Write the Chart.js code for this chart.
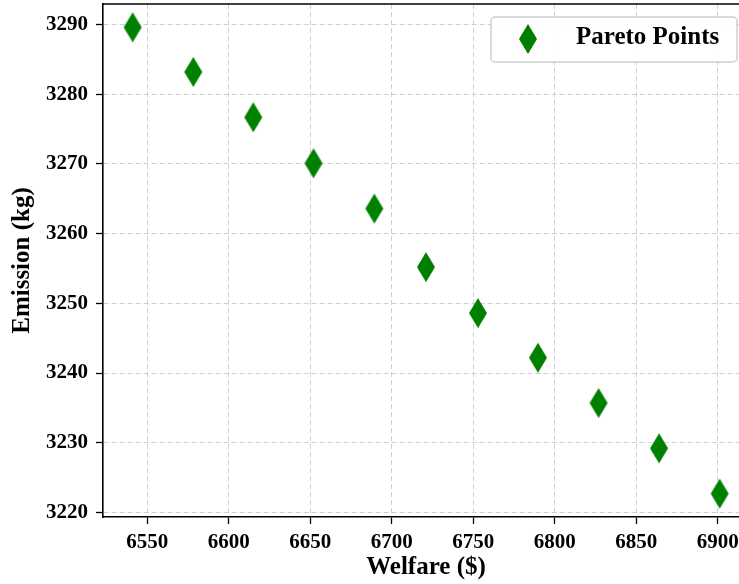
<!DOCTYPE html>
<html>
<head>
<meta charset="utf-8">
<script src="https://cdn.jsdelivr.net/npm/chart.js@4.4.1/dist/chart.umd.min.js"></script>
<style>
  html, body { margin: 0; padding: 0; background: #fff; overflow: hidden; }
  canvas { display: block; }
</style>
</head>
<body>
<canvas id="paretoChart" width="751" height="584"></canvas>
<script>
// values
const welfare = [6541.0, 6578.2, 6615.0, 6652.0, 6689.3, 6721.0, 6752.9, 6789.7, 6826.9, 6864.0, 6901.2];
const emission = [3289.6, 3283.2, 3276.7, 3270.1, 3263.6, 3255.2, 3248.6, 3242.2, 3235.7, 3229.2, 3222.7];
const xTicks = [6550, 6600, 6650, 6700, 6750, 6800, 6850, 6900];
const yTicks = [3220, 3230, 3240, 3250, 3260, 3270, 3280, 3290];
const seriesLabel = 'Pareto Points';

const FONT = "'Liberation Serif', 'Times New Roman', serif";
const GREEN = '#008000';

// thin diamond marker (like matplotlib 'd')
function makeDiamond() {
  const c = document.createElement('canvas');
  c.width = 20;
  c.height = 32;
  const g = c.getContext('2d');
  g.fillStyle = GREEN;
  g.beginPath();
  g.moveTo(10, 1);
  g.lineTo(19, 16);
  g.lineTo(10, 31);
  g.lineTo(1, 16);
  g.closePath();
  g.fill();
  return c;
}
const diamond = makeDiamond();

// keep chart.js from adding label overflow padding, the layout is fixed by hand
function noPad(scale) {
  scale.paddingLeft = 0;
  scale.paddingRight = 0;
  scale.paddingTop = 0;
  scale.paddingBottom = 0;
}

// top/right frame lines, chart.js only draws the axis borders
const framePlugin = {
  id: 'frame',
  afterDraw(chart) {
    const { ctx, chartArea: a } = chart;
    ctx.save();
    ctx.strokeStyle = '#000';
    ctx.lineWidth = 1.6;
    ctx.beginPath();
    ctx.moveTo(a.left, a.top);
    ctx.lineTo(a.right, a.top);
    ctx.lineTo(a.right, a.bottom);
    ctx.stroke();
    ctx.restore();
  }
};

// legend box inside the plot, upper right
const innerLegend = {
  id: 'innerLegend',
  afterDraw(chart) {
    const { ctx, chartArea: a } = chart;
    const w = 246, h = 45;
    const x = a.right - 12 - w;
    const y = a.top + 13;
    ctx.save();
    ctx.fillStyle = 'rgba(255,255,255,0.9)';
    ctx.strokeStyle = '#d0d0d0';
    ctx.lineWidth = 1.5;
    ctx.beginPath();
    ctx.roundRect(x, y, w, h, 4);
    ctx.fill();
    ctx.stroke();
    ctx.drawImage(diamond, x + 37 - diamond.width / 2, y + 22 - diamond.height / 2);
    ctx.fillStyle = '#000';
    ctx.font = 'bold 25px ' + FONT;
    ctx.textBaseline = 'middle';
    ctx.textAlign = 'left';
    ctx.fillText(chart.data.datasets[0].label, x + 85, y + 21);
    ctx.restore();
  }
};

const ctx = document.getElementById('paretoChart').getContext('2d');
new Chart(ctx, {
  type: 'scatter',
  data: {
    datasets: [{
      label: seriesLabel,
      data: welfare.map((w, i) => ({ x: w, y: emission[i] })),
      pointStyle: diamond,
      pointRadius: 10,
      backgroundColor: GREEN,
      borderColor: GREEN
    }]
  },
  options: {
    responsive: false,
    animation: false,
    layout: { autoPadding: false, padding: { top: 4, right: 2, left: 0, bottom: 0 } },
    plugins: {
      legend: { display: false },
      tooltip: { enabled: false }
    },
    scales: {
      x: {
        type: 'linear',
        min: 6522.8,
        max: 6919.2,
        afterBuildTicks: scale => { scale.ticks = xTicks.map(v => ({ value: v })); },
        afterFit: scale => { scale.height = 67; noPad(scale); },
        ticks: {
          color: '#000',
          padding: 6,
          maxRotation: 0,
          font: { family: FONT, size: 21, weight: 'bold' },
          callback: v => String(v)
        },
        grid: {
          color: '#cfcfcf',
          lineWidth: 1,
          tickLength: 7,
          tickColor: '#000',
          tickWidth: 1.3,
          tickBorderDash: []
        },
        border: { display: true, color: '#000', width: 1.6, dash: [5, 3] },
        title: {
          display: true,
          text: 'Welfare ($)',
          color: '#000',
          padding: { top: 0, bottom: 1 },
          font: { family: FONT, size: 25, weight: 'bold' }
        }
      },
      y: {
        type: 'linear',
        min: 3219.35,
        max: 3292.95,
        afterBuildTicks: scale => { scale.ticks = yTicks.map(v => ({ value: v })); },
        afterFit: scale => { scale.width = 103; noPad(scale); },
        ticks: {
          color: '#000',
          padding: 8,
          font: { family: FONT, size: 21, weight: 'bold' },
          callback: v => String(v)
        },
        grid: {
          color: '#cfcfcf',
          lineWidth: 1,
          tickLength: 7,
          tickColor: '#000',
          tickWidth: 1.3,
          tickBorderDash: []
        },
        border: { display: true, color: '#000', width: 1.6, dash: [5, 3] },
        title: {
          display: true,
          text: 'Emission (kg)',
          color: '#000',
          padding: { top: 7.5, bottom: 0 },
          font: { family: FONT, size: 25, weight: 'bold' }
        }
      }
    }
  },
  plugins: [framePlugin, innerLegend]
});
</script>
</body>
</html>
